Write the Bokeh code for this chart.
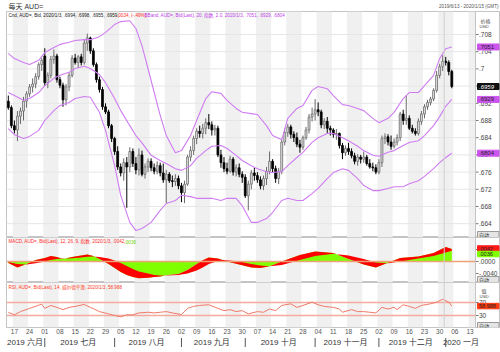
import numpy as np
import pandas as pd
from bokeh.plotting import figure
from bokeh.layouts import column
from bokeh.models import (ColumnDataSource, Range1d, FixedTicker, Label, Span, BoxAnnotation)
from bokeh.embed import file_html
from bokeh.resources import INLINE
from bokeh.core.properties import value

# ---------------- data ----------------
first_day = "2019-06-13"
axis_last_day = "2020-01-15"

opens = [.6925,.6910,.6868,.6858,.6890,.6902,.6925,.6942,.6958,.6965,.6982,.7010,.7030,.6968,.6985,.7022,.7030,.6975,.6962,.6928,
         .6958,.6985,.7025,.7015,.7028,.7015,.7060,.7072,.7042,.7010,.6975,.6952,.6912,.6900,.6868,.6838,.6808,.6772,.6758,.6782,
         .6772,.6808,.6780,.6765,.6800,.6755,.6772,.6785,.6770,.6762,.6775,.6758,.6742,.6755,.6740,.6738,.6745,.6728,.6712,.6732,
         .6795,.6810,.6838,.6855,.6850,.6862,.6875,.6870,.6858,.6862,.6800,.6782,.6768,.6762,.6790,.6760,.6770,.6755,.6748,.6705,
         .6732,.6758,.6752,.6742,.6728,.6745,.6762,.6785,.6768,.6745,.6762,.6830,.6852,.6865,.6848,.6840,.6825,.6818,.6840,.6858,
         .6888,.6895,.6905,.6900,.6870,.6878,.6862,.6858,.6848,.6850,.6822,.6805,.6815,.6808,.6798,.6785,.6795,.6790,.6795,.6780,
         .6772,.6770,.6760,.6782,.6838,.6842,.6830,.6820,.6830,.6840,.6895,.6880,.6885,.6862,.6855,.6850,.6878,.6895,.6912,.6922,
         .6930,.6950,.6985,.7005,.7018,.7015,.6994]
highs = [.6938,.6915,.6880,.6902,.6910,.6935,.6948,.6965,.6978,.6990,.7015,.7025,.7048,.6992,.7030,.7045,.7035,.6982,.6968,.6965,
         .6992,.7032,.7035,.7032,.7035,.7068,.7082,.7075,.7048,.7015,.6982,.6958,.6920,.6905,.6872,.6842,.6820,.6780,.6792,.6795,
         .6818,.6815,.6795,.6815,.6810,.6780,.6792,.6792,.6780,.6785,.6782,.6780,.6765,.6760,.6752,.6755,.6752,.6735,.6740,.6800,
         .6820,.6845,.6862,.6868,.6872,.6885,.6895,.6878,.6870,.6868,.6812,.6795,.6782,.6798,.6795,.6778,.6780,.6762,.6755,.6740,
         .6765,.6770,.6760,.6750,.6752,.6772,.6808,.6790,.6775,.6770,.6838,.6862,.6872,.6870,.6855,.6852,.6835,.6845,.6865,.6895,
         .6910,.6930,.6922,.6905,.6885,.6888,.6868,.6862,.6860,.6852,.6828,.6822,.6828,.6815,.6805,.6802,.6800,.6808,.6800,.6790,
         .6782,.6778,.6790,.6845,.6850,.6848,.6845,.6838,.6848,.6900,.6905,.6938,.6892,.6870,.6862,.6885,.6902,.6918,.6928,.6935,
         .6955,.6995,.7012,.7032,.7028,.7020,.6998]
lows = [.6905,.6862,.6850,.6832,.6872,.6880,.6910,.6935,.6945,.6955,.6975,.6995,.6960,.6955,.6978,.7012,.6968,.6955,.6912,.6915,
        .6948,.6980,.7010,.7002,.7008,.7010,.7042,.7035,.7005,.6968,.6945,.6905,.6895,.6862,.6830,.6800,.6765,.6750,.6740,.6677,
        .6760,.6772,.6755,.6752,.6750,.6745,.6760,.6762,.6755,.6755,.6750,.6735,.6688,.6735,.6725,.6728,.6720,.6690,.6688,.6728,
        .6785,.6800,.6825,.6840,.6838,.6848,.6860,.6845,.6845,.6795,.6770,.6760,.6755,.6758,.6752,.6750,.6748,.6735,.6700,.6671,
        .6720,.6740,.6735,.6720,.6718,.6730,.6755,.6758,.6735,.6732,.6755,.6822,.6842,.6838,.6830,.6818,.6805,.6812,.6835,.6850,
        .6878,.6880,.6890,.6862,.6860,.6850,.6845,.6840,.6835,.6815,.6790,.6798,.6800,.6792,.6778,.6775,.6780,.6782,.6775,.6768,
        .6762,.6755,.6755,.6772,.6825,.6822,.6812,.6815,.6822,.6832,.6870,.6870,.6858,.6850,.6845,.6845,.6870,.6885,.6905,.6915,
        .6925,.6945,.6978,.6995,.7008,.6985,.6955]
closes = [.6910,.6868,.6858,.6890,.6902,.6925,.6942,.6958,.6965,.6982,.7010,.7020,.6968,.6985,.7022,.7030,.6975,.6962,.6928,.6958,
          .6985,.7025,.7015,.7028,.7015,.7060,.7072,.7042,.7010,.6975,.6952,.6912,.6900,.6868,.6838,.6808,.6772,.6758,.6782,.6772,
          .6808,.6780,.6765,.6800,.6755,.6772,.6785,.6770,.6762,.6775,.6758,.6742,.6755,.6740,.6738,.6745,.6728,.6712,.6732,.6795,
          .6810,.6838,.6855,.6850,.6862,.6875,.6870,.6858,.6862,.6800,.6782,.6768,.6762,.6790,.6760,.6770,.6755,.6748,.6705,.6732,
          .6758,.6752,.6742,.6728,.6745,.6762,.6785,.6768,.6745,.6762,.6830,.6852,.6865,.6848,.6840,.6825,.6818,.6840,.6858,.6888,
          .6895,.6905,.6900,.6870,.6878,.6862,.6858,.6848,.6850,.6822,.6805,.6815,.6808,.6798,.6785,.6795,.6790,.6795,.6780,.6772,
          .6770,.6760,.6782,.6838,.6842,.6830,.6820,.6830,.6840,.6895,.6880,.6885,.6862,.6855,.6850,.6878,.6895,.6912,.6922,.6930,
          .6950,.6985,.7005,.7018,.7015,.6994,.6959]

band_dates = ["2019-06-13","2019-06-17","2019-06-20","2019-06-24","2019-06-27","2019-07-01","2019-07-04","2019-07-08","2019-07-11","2019-07-15",
              "2019-07-18","2019-07-22","2019-07-25","2019-07-29","2019-08-01","2019-08-05","2019-08-08","2019-08-12","2019-08-14","2019-08-19",
              "2019-08-22","2019-08-26","2019-08-29","2019-09-02","2019-09-05","2019-09-09","2019-09-12","2019-09-16","2019-09-19","2019-09-23",
              "2019-09-26","2019-09-30","2019-10-03","2019-10-07","2019-10-10","2019-10-14","2019-10-17","2019-10-21","2019-10-24","2019-10-28",
              "2019-10-31","2019-11-04","2019-11-07","2019-11-11","2019-11-14","2019-11-18","2019-11-21","2019-11-25","2019-11-28","2019-12-02",
              "2019-12-05","2019-12-09","2019-12-12","2019-12-16","2019-12-19","2019-12-23","2019-12-26","2019-12-30","2020-01-01","2020-01-03"]
band_upper = [.7036,.7024,.7015,.7010,.7020,.7038,.7050,.7057,.7062,.7066,.7068,.7068,.7075,.7085,.7103,.7110,.7112,.7094,.7054,.6973,
              .6892,.6845,.6805,.6810,.6845,.6880,.6931,.6947,.6943,.6927,.6908,.6899,.6896,.6894,.6868,.6845,.6835,.6885,.6908,.6915,
              .6950,.6959,.6954,.6938,.6917,.6915,.6908,.6903,.6885,.6875,.6885,.6899,.6931,.6945,.6945,.6961,.6985,.7024,.7047,.7051]
band_middle = [.6945,.6938,.6927,.6931,.6945,.6961,.6978,.6985,.6992,.7001,.7006,.7001,.6987,.6968,.6931,.6903,.6868,.6845,.6828,.6799,
               .6787,.6780,.6768,.6764,.6775,.6792,.6810,.6820,.6822,.6815,.6799,.6787,.6775,.6768,.6761,.6759,.6761,.6775,.6794,.6806,
               .6829,.6840,.6850,.6850,.6840,.6833,.6820,.6810,.6799,.6797,.6806,.6810,.6822,.6829,.6833,.6845,.6868,.6889,.6913,.6929]
band_lower = [.6861,.6847,.6838,.6843,.6857,.6880,.6903,.6915,.6922,.6931,.6936,.6934,.6899,.6857,.6775,.6706,.6643,.6624,.6629,.6643,
              .6671,.6687,.6694,.6706,.6703,.6699,.6699,.6699,.6694,.6699,.6699,.6682,.6643,.6643,.6652,.6666,.6694,.6699,.6694,.6694,
              .6710,.6722,.6745,.6759,.6768,.6764,.6745,.6729,.6717,.6717,.6722,.6726,.6726,.6733,.6740,.6750,.6768,.6782,.6794,.6804]

macd_dates = ["2019-06-13","2019-06-18","2019-06-21","2019-06-26","2019-07-01","2019-07-03","2019-07-05","2019-07-09","2019-07-12","2019-07-17",
              "2019-07-19","2019-07-23","2019-07-25","2019-07-30","2019-08-01","2019-08-05","2019-08-07","2019-08-09","2019-08-13","2019-08-16",
              "2019-08-20","2019-08-22","2019-08-26","2019-08-30","2019-09-04","2019-09-09","2019-09-11","2019-09-13","2019-09-18","2019-09-23",
              "2019-09-27","2019-10-03","2019-10-08","2019-10-11","2019-10-17","2019-10-25","2019-11-01","2019-11-11","2019-11-18","2019-11-25",
              "2019-11-29","2019-12-05","2019-12-11","2019-12-19","2019-12-26","2020-01-01","2020-01-03"]
macd_values = [-.0005,-.0020,-.0008,.0005,.0012,.0018,.0015,.0008,.0015,.0020,.0023,.0018,.0008,-.0008,-.0022,-.0035,-.0045,-.0052,-.0056,-.0054,
               -.0052,-.0050,-.0046,-.0042,-.0028,-.0008,.0004,.0013,.0010,.0000,-.0010,-.0020,-.0022,-.0016,.0000,.0022,.0033,.0028,.0008,-.0010,
               -.0020,-.0004,.0012,.0017,.0028,.0048,.0042]
macd_signal = [-.0002,-.0008,-.0010,-.0006,.0000,.0005,.0008,.0010,.0011,.0013,.0016,.0017,.0015,.0010,.0003,-.0005,-.0015,-.0025,-.0033,-.0040,
               -.0045,-.0047,-.0047,-.0045,-.0040,-.0030,-.0020,-.0008,.0002,.0004,.0000,-.0008,-.0013,-.0016,-.0012,.0005,.0018,.0026,.0020,.0008,
               -.0003,-.0006,.0000,.0010,.0018,.0030,.0036]

rsi_dates = ["2019-06-13","2019-06-17","2019-06-19","2019-06-24","2019-06-28","2019-07-01","2019-07-03","2019-07-05","2019-07-09","2019-07-11",
             "2019-07-15","2019-07-18","2019-07-22","2019-07-23","2019-07-25","2019-07-30","2019-08-01","2019-08-05","2019-08-07","2019-08-09",
             "2019-08-13","2019-08-16","2019-08-20","2019-08-22","2019-08-26","2019-08-28","2019-09-02","2019-09-04","2019-09-06","2019-09-10",
             "2019-09-13","2019-09-18","2019-09-20","2019-09-24","2019-09-26","2019-09-30","2019-10-02","2019-10-07","2019-10-09","2019-10-11",
             "2019-10-15","2019-10-17","2019-10-22","2019-10-24","2019-10-28","2019-10-31","2019-11-04","2019-11-06","2019-11-11","2019-11-13",
             "2019-11-14","2019-11-19","2019-11-21","2019-11-25","2019-11-27","2019-11-29","2019-12-03","2019-12-05","2019-12-09","2019-12-10",
             "2019-12-12","2019-12-16","2019-12-18","2019-12-20","2019-12-25","2019-12-27","2019-12-31","2020-01-02","2020-01-03"]
rsi_values = [40,32,42,52,65,52,61,55,48,55,58,64,55,51,42,35,30,26,32,32,
              38,40,38,40,42,38,33,52,58,61,63,52,45,48,42,45,35,42,40,50,
              45,61,66,55,61,71,63,58,55,50,40,48,42,42,40,38,55,50,55,48,
              63,58,52,61,66,71,80,71,58.988]

price_ticks = [0.664, 0.668, 0.672, 0.676, 0.680, 0.684, 0.688, 0.692, 0.696, 0.700, 0.704, 0.708]
price_tick_labels = [".664", ".668", ".672", ".676", ".68", ".684", ".688", ".692", ".696", ".7", ".704", ".708"]
macd_ticks = [-0.004, 0.0, 0.004]
macd_tick_labels = ["-.0040", ".0000", ".0040"]
rsi_ticks = [30, 70]
rsi_tick_labels = ["30", "70"]
month_names = ["2019 六月", "2019 七月", "2019 八月", "2019 九月", "2019 十月", "2019 十一月", "2019 十二月", "2020 一月"]

title_text = "每天 AUD="
range_text = "2019/6/13 - 2020/1/15 (GMT)"
cnd_text = "Cnd, AUD=, Bid, 2020/1/3, .6994, .6998, .6955, .6959,"
chg_text = "-.0034, (-.49%),"
bb_text = "BBand, AUD=, Bid(Last), 20, 指数, 2.0, 2020/1/3, .7051, .6929, .6804"
macd_text = "MACD, AUD=, Bid(Last), 12, 26, 9, 指数, 2020/1/3, .0042,"
macd_sig_text = ".0036"
rsi_text = "RSI, AUD=, Bid(Last), 14, 威尔德平滑, 2020/1/3, 58.988"
rsi_last_text = "58.988"

# ---------------- helpers ----------------
days = pd.bdate_range(first_day, axis_last_day)
def di(d):
    return days.get_loc(pd.Timestamp(d))

SANS = "Liberation Sans, Noto Sans CJK SC"
W = 500
LB = 6
PLOT_RIGHT_PX = 475
X0, X1 = -0.6, 153.8              # data part of each panel
XS = (PLOT_RIGHT_PX - LB) / (X1 - X0)
X1E = X0 + (W - LB) / XS          # frame runs on to the page edge (axis strip)
xr = Range1d(X0, X1E)
def x_at_px(px):
    return X0 + (px - LB) / XS

mondays = [i for i, d in enumerate(days) if d.weekday() == 0]
year_sep = di("2020-01-01") - 0.5
per = days.to_period("M")
month_first = [i for i in range(len(days)) if i == 0 or per[i] != per[i - 1]]
month_last = [i for i in range(len(days)) if i == len(days) - 1 or per[i] != per[i + 1]]
month_centers = [(a + b) / 2 for a, b in zip(month_first, month_last)]
month_bounds = month_first[1:]

def ypos(yr, h, off):
    return yr.end - off / h * (yr.end - yr.start)

def base_fig(h, yr, bottom=0, xloc=None):
    p = figure(width=W, height=h, x_range=xr, y_range=yr, toolbar_location=None,
               output_backend="svg", x_axis_location=xloc, y_axis_location=None,
               min_border_left=LB, min_border_right=0, min_border_top=0, min_border_bottom=bottom,
               background_fill_color="white", border_fill_color="white")
    p.outline_line_color = "#c4c4c4"
    p.grid.visible = False
    for k, m in enumerate(mondays):
        if k % 2 == 0:
            p.add_layout(BoxAnnotation(left=m - 0.5, right=min(m + 4.5, X1), fill_color="#f0f0f0",
                                       fill_alpha=1, line_alpha=0, level="image"))
    p.add_layout(Span(location=year_sep, dimension="height", line_color="#cfcfcf", line_width=1))
    p.add_layout(Span(location=X1, dimension="height", line_color="#c4c4c4", line_width=1))
    return p

def side_axis(p, ticks, labels, grid=True):
    n_ = len(ticks)
    if grid:
        p.segment(x0=[X0] * n_, y0=ticks, x1=[X1] * n_, y1=ticks, line_color="#e6e6e6",
                  line_width=1, level="underlay")
    p.segment(x0=[x_at_px(475.5)] * n_, y0=ticks, x1=[x_at_px(478)] * n_, y1=ticks,
              line_color="#777777", line_width=1)
    p.text(x=[x_at_px(478.5)] * n_, y=ticks, text=labels, text_baseline="middle", text_align="left",
           text_font_size="6.5px", text_font=value(SANS), text_color="#444444")

def tag(p, y, text, bg, yscale, fg="#222222", size="6px", border=None, h=6.0, italic=False):
    half = h / 2 / yscale
    p.quad(left=[x_at_px(477)], right=[x_at_px(498.5)], bottom=[y - half], top=[y + half],
           fill_color=bg, line_color=border if border else bg, line_width=1)
    p.text(x=[x_at_px(478.5)], y=[y], text=[text], text_baseline="middle", text_align="left",
           text_font_size=size, text_font=value(SANS), text_color=fg,
           text_font_style="italic" if italic else "normal")

def note(p, x, y, text, color, size="4.6px", align="left"):
    p.add_layout(Label(x=x, y=y, text=text, text_baseline="middle", text_align=align,
                       text_font_size=size, text_font=SANS, text_color=color))

# ---------------- header ----------------
hdr = figure(width=W, height=11, x_range=Range1d(0, W), y_range=Range1d(0, 11), toolbar_location=None,
             output_backend="svg", x_axis_location=None, y_axis_location=None,
             min_border_left=0, min_border_right=0, min_border_top=0, min_border_bottom=0)
hdr.outline_line_color = None
hdr.grid.visible = False
note(hdr, 2, 6, title_text, "#333333", size="7px")
note(hdr, 498, 6.5, range_text, "#555555", size="4.6px", align="right")
hdr.add_layout(Span(location=0.6, dimension="width", line_color="#8a8a8a", line_width=1.2))

# ---------------- price panel ----------------
MH = 226
PX_PER_PRICE = 4300.0
yr_main = Range1d(0.708 - (237 - 34) / PX_PER_PRICE, 0.708 + (34 - 11) / PX_PER_PRICE)
pm = base_fig(MH, yr_main)
side_axis(pm, price_ticks, price_tick_labels)

n = len(closes)
xs = list(range(n))
up = [c >= o for o, c in zip(opens, closes)]
src = ColumnDataSource(dict(
    x=xs, high=highs, low=lows,
    top=[max(o, c) for o, c in zip(opens, closes)],
    bottom=[min(o, c) if abs(c - o) > 0.00004 else min(o, c) - 0.00004 for o, c in zip(opens, closes)],
    fill=["#e4e4e4" if u else "#000000" for u in up],
    line=["#6a6a6a" if u else "#000000" for u in up],
))
pm.segment(x0="x", y0="high", x1="x", y1="low", color="line", line_width=1, source=src)
pm.vbar(x="x", width=0.62, top="top", bottom="bottom", fill_color="fill", line_color="line",
        line_width=0.8, source=src)

bx = [di(d) for d in band_dates]
for arr in (band_upper, band_middle, band_lower):
    pm.line(bx, arr, line_color="#cf7cf2", line_width=1.1)

note(pm, x_at_px(8), ypos(yr_main, MH, 4), cnd_text, "#222222")
note(pm, x_at_px(115), ypos(yr_main, MH, 4), chg_text, "#ff2a2a")
note(pm, x_at_px(144), ypos(yr_main, MH, 4), bb_text, "#c040e8")

note(pm, x_at_px(480), ypos(yr_main, MH, 9), "价格", "#444444", size="5px")
note(pm, x_at_px(479), ypos(yr_main, MH, 14.5), "USD", "#444444", size="4.4px")
tag(pm, band_upper[-1], f"{band_upper[-1]:.4f}"[1:], "#cc55ee", PX_PER_PRICE)
tag(pm, closes[-1], f"{closes[-1]:.4f}"[1:], "#111111", PX_PER_PRICE, fg="#ffffff", italic=True)
tag(pm, band_middle[-1], f"{band_middle[-1]:.4f}"[1:], "#cc55ee", PX_PER_PRICE)
tag(pm, band_lower[-1], f"{band_lower[-1]:.4f}"[1:], "#cc55ee", PX_PER_PRICE)
tag(pm, ypos(yr_main, MH, 223), "自动", "#e4e4e4", PX_PER_PRICE, size="5px", border="#9a9a9a")

# ---------------- MACD panel ----------------
DH = 45
PX_PER_MACD = 3000.0
yr_macd = Range1d(-(282 - 261) / PX_PER_MACD, (261 - 237) / PX_PER_MACD)
pd_ = base_fig(DH, yr_macd)
side_axis(pd_, macd_ticks, macd_tick_labels, grid=False)
mx = [di(d) for d in macd_dates]
pd_.varea(x=mx, y1=[0.0] * len(mx), y2=macd_values, fill_color="#80ff00")
pd_.varea(x=mx, y1=macd_values, y2=macd_signal, fill_color="#ff0000")
pd_.segment(x0=[X0], y0=[0], x1=[X1], y1=[0], line_color="#eba27a", line_width=1.3)
note(pd_, x_at_px(8), ypos(yr_macd, DH, 4), macd_text, "#ff2a2a")
note(pd_, x_at_px(124), ypos(yr_macd, DH, 4), macd_sig_text, "#6ad000")
tag(pd_, ypos(yr_macd, DH, 11), f"{macd_values[-1]:.4f}"[1:], "#ff1a1a", PX_PER_MACD, size="5.5px", h=5.5)
tag(pd_, ypos(yr_macd, DH, 16.5), f"{macd_signal[-1]:.4f}"[1:], "#80ff00", PX_PER_MACD, size="5.5px", h=5.5)
tag(pd_, ypos(yr_macd, DH, 42), "自动", "#e4e4e4", PX_PER_MACD, size="5px", border="#9a9a9a")

# ---------------- RSI panel ----------------
RH_FRAME = 45
RB_AX = 10
PX_PER_RSI = 0.325
yr_rsi = Range1d(30 - (327 - 315) / PX_PER_RSI, 30 + (315 - 282) / PX_PER_RSI)
pr = base_fig(RH_FRAME + RB_AX, yr_rsi, bottom=RB_AX, xloc="below")
side_axis(pr, rsi_ticks, rsi_tick_labels, grid=False)
for lv in rsi_ticks:
    pr.segment(x0=[X0], y0=[lv], x1=[X1], y1=[lv], line_color="#f4aa9e", line_width=1.6)
rx = [di(d) for d in rsi_dates]
pr.line(rx, rsi_values, line_color="#f07a68", line_width=1.0)
note(pr, x_at_px(8), ypos(yr_rsi, RH_FRAME, 5), rsi_text, "#ff3a1a")
note(pr, x_at_px(481), ypos(yr_rsi, RH_FRAME, 8), "值", "#444444", size="5px")
note(pr, x_at_px(479), ypos(yr_rsi, RH_FRAME, 14), "USD", "#444444", size="4.4px")
tag(pr, rsi_values[-1], rsi_last_text, "#ff3a10", PX_PER_RSI, size="5.5px", h=5.5)
tag(pr, ypos(yr_rsi, RH_FRAME, 43), "自动", "#e4e4e4", PX_PER_RSI, size="5px", border="#9a9a9a")

dax = pr.xaxis[0]
dax.ticker = FixedTicker(ticks=mondays)
dax.major_label_overrides = {m: days[m].strftime("%d") for m in mondays}
dax.axis_line_color = None
dax.major_tick_line_color = None
dax.minor_tick_line_color = None
dax.major_tick_out = 0
dax.major_tick_in = 0
dax.major_label_standoff = 1
dax.major_label_text_font_size = "6.5px"
dax.major_label_text_font = "Liberation Sans"
dax.major_label_text_color = "#555555"

# ---------------- month row ----------------
FH = 15
ft = figure(width=W, height=FH, x_range=xr, y_range=Range1d(0, FH), toolbar_location=None,
            output_backend="svg", x_axis_location=None, y_axis_location=None,
            min_border_left=LB, min_border_right=0, min_border_top=0, min_border_bottom=0,
            background_fill_color="white", border_fill_color="white")
ft.outline_line_color = None
ft.grid.visible = False
ft.text(x=month_centers, y=[FH - 4.5] * len(month_centers), text=month_names, text_align="center",
        text_baseline="middle", text_font_size="8px", text_font=value(SANS), text_color="#333333")
ft.segment(x0=month_bounds, y0=[FH - 0.5] * len(month_bounds), x1=month_bounds,
           y1=[FH - 9.5] * len(month_bounds), line_color="#555555", line_width=1)

layout = column(hdr, pm, pd_, pr, ft, spacing=0)
open("out.html", "w").write(file_html(layout, INLINE))
